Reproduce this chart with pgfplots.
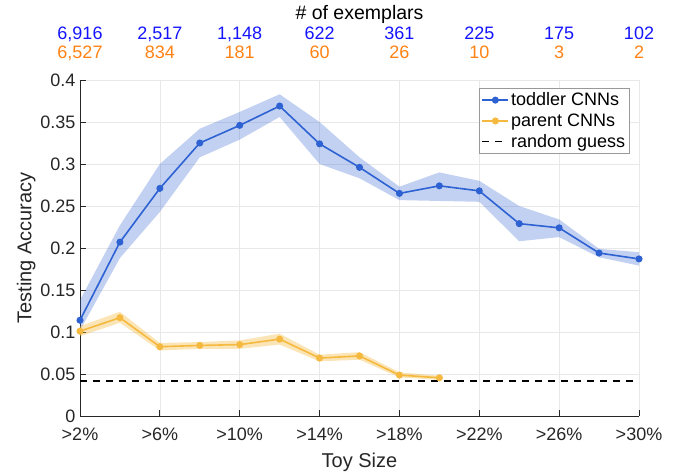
\documentclass[border=0pt]{standalone}
\usepackage{pgfplots}
\pgfplotsset{compat=1.18}
\usepgfplotslibrary{fillbetween}
\usepackage{fontspec}
\setmainfont{Liberation Sans}
\definecolor{tb}{HTML}{2E62D2}
\definecolor{py}{HTML}{F5B93F}
\definecolor{topblue}{HTML}{1414FF}
\definecolor{toporange}{HTML}{FF8214}
\definecolor{gridc}{HTML}{E8E8E8}
\definecolor{axc}{HTML}{262626}
\begin{document}
\begin{tikzpicture}
\begin{axis}[
  scale only axis, width=559pt, height=336pt,
  xmin=2, xmax=30, ymin=0, ymax=0.4,
  axis lines*=left,
  axis line style={-, draw=axc, line width=0.8pt},
  tick align=inside, major tick length=6pt,
  tick style={axc, line width=0.8pt},
  grid=major, major grid style={gridc, line width=0.6pt},
  xtick={2,6,...,30},
  xticklabels={>2\%,>6\%,>10\%,>14\%,>18\%,>22\%,>26\%,>30\%},
  ytick={0,0.05,...,0.41},
  /pgf/number format/assume math mode=true,
  /pgf/number format/fixed, /pgf/number format/precision=2,
  ticklabel style={font=\fontsize{18}{20}\selectfont, text=axc},
  xticklabel style={yshift=-8pt},
  yticklabel style={xshift=-1pt},
  xlabel={Toy Size}, ylabel={Testing Accuracy},
  label style={font=\fontsize{20}{22}\selectfont, text=axc},
  xlabel style={yshift=-6pt},
  ylabel style={yshift=-2pt},
  clip=false,
  legend style={at={(0.984,0.976)}, anchor=north east, draw=gray!80, line width=0.6pt,
    font=\fontsize{18}{19}\selectfont, inner sep=2.5pt, row sep=2.5pt, cells={anchor=west}},
  legend image code/.code={\draw[mark repeat=2,mark phase=2,#1] plot coordinates {(0pt,0pt) (13pt,0pt) (26pt,0pt)};},
]
% toddler band
\addplot[name path=tu, draw=none, forget plot] coordinates {(2,0.138) (4,0.227) (6,0.300) (8,0.342) (10,0.362) (12,0.383) (14,0.350) (16,0.308) (18,0.273) (20,0.290) (22,0.280) (24,0.250) (26,0.234) (28,0.199) (30,0.195)};
\addplot[name path=tl, draw=none, forget plot] coordinates {(2,0.102) (4,0.188) (6,0.243) (8,0.308) (10,0.329) (12,0.356) (14,0.300) (16,0.283) (18,0.257) (20,0.256) (22,0.255) (24,0.208) (26,0.213) (28,0.189) (30,0.179)};
\addplot[fill=tb, fill opacity=0.29, draw=none, forget plot] fill between[of=tu and tl];
% parent band
\addplot[name path=pu, draw=none, forget plot] coordinates {(2,0.107) (4,0.124) (6,0.087) (8,0.088) (10,0.090) (12,0.098) (14,0.073) (16,0.076) (18,0.052) (20,0.048)};
\addplot[name path=pl, draw=none, forget plot] coordinates {(2,0.095) (4,0.111) (6,0.078) (8,0.080) (10,0.080) (12,0.085) (14,0.065) (16,0.067) (18,0.046) (20,0.043)};
\addplot[fill=py, fill opacity=0.38, draw=none, forget plot] fill between[of=pu and pl];
% lines
\addplot[tb, line width=1.6pt, mark=*, mark size=2.7pt, mark options={solid, fill=tb, draw=tb}] coordinates {(2,0.114) (4,0.207) (6,0.271) (8,0.325) (10,0.346) (12,0.369) (14,0.324) (16,0.296) (18,0.265) (20,0.274) (22,0.268) (24,0.229) (26,0.224) (28,0.194) (30,0.187)};
\addlegendentry{toddler CNNs}
\addplot[py, line width=1.6pt, mark=*, mark size=2.7pt, mark options={solid, fill=py, draw=py}] coordinates {(2,0.101) (4,0.117) (6,0.0825) (8,0.084) (10,0.085) (12,0.0915) (14,0.069) (16,0.0715) (18,0.0487) (20,0.0455)};
\addlegendentry{parent CNNs}
\addplot[black, line width=1.4pt, dash pattern=on 7pt off 6pt] coordinates {(2,0.0417) (30,0.0417)};
\addlegendentry{random guess}
% top labels
\node[anchor=base, font=\fontsize{19.5}{21}\selectfont, text=black] at (axis cs:16,0.4) [yshift=60pt] {\# of exemplars};
\node[anchor=base, font=\fontsize{18}{20}\selectfont, text=topblue] at (axis cs:2,0.4) [yshift=40pt] {6,916};
\node[anchor=base, font=\fontsize{18}{20}\selectfont, text=topblue] at (axis cs:6,0.4) [yshift=40pt] {2,517};
\node[anchor=base, font=\fontsize{18}{20}\selectfont, text=topblue] at (axis cs:10,0.4) [yshift=40pt] {1,148};
\node[anchor=base, font=\fontsize{18}{20}\selectfont, text=topblue] at (axis cs:14,0.4) [yshift=40pt] {622};
\node[anchor=base, font=\fontsize{18}{20}\selectfont, text=topblue] at (axis cs:18,0.4) [yshift=40pt] {361};
\node[anchor=base, font=\fontsize{18}{20}\selectfont, text=topblue] at (axis cs:22,0.4) [yshift=40pt] {225};
\node[anchor=base, font=\fontsize{18}{20}\selectfont, text=topblue] at (axis cs:26,0.4) [yshift=40pt] {175};
\node[anchor=base, font=\fontsize{18}{20}\selectfont, text=topblue] at (axis cs:30,0.4) [yshift=40pt] {102};
\node[anchor=base, font=\fontsize{18}{20}\selectfont, text=toporange] at (axis cs:2,0.4) [yshift=21.5pt] {6,527};
\node[anchor=base, font=\fontsize{18}{20}\selectfont, text=toporange] at (axis cs:6,0.4) [yshift=21.5pt] {834};
\node[anchor=base, font=\fontsize{18}{20}\selectfont, text=toporange] at (axis cs:10,0.4) [yshift=21.5pt] {181};
\node[anchor=base, font=\fontsize{18}{20}\selectfont, text=toporange] at (axis cs:14,0.4) [yshift=21.5pt] {60};
\node[anchor=base, font=\fontsize{18}{20}\selectfont, text=toporange] at (axis cs:18,0.4) [yshift=21.5pt] {26};
\node[anchor=base, font=\fontsize{18}{20}\selectfont, text=toporange] at (axis cs:22,0.4) [yshift=21.5pt] {10};
\node[anchor=base, font=\fontsize{18}{20}\selectfont, text=toporange] at (axis cs:26,0.4) [yshift=21.5pt] {3};
\node[anchor=base, font=\fontsize{18}{20}\selectfont, text=toporange] at (axis cs:30,0.4) [yshift=21.5pt] {2};
\end{axis}
\path ([shift={(-80pt,-57pt)}]current axis.south west) rectangle ([shift={(44pt,80pt)}]current axis.north east);
\end{tikzpicture}
\end{document}
